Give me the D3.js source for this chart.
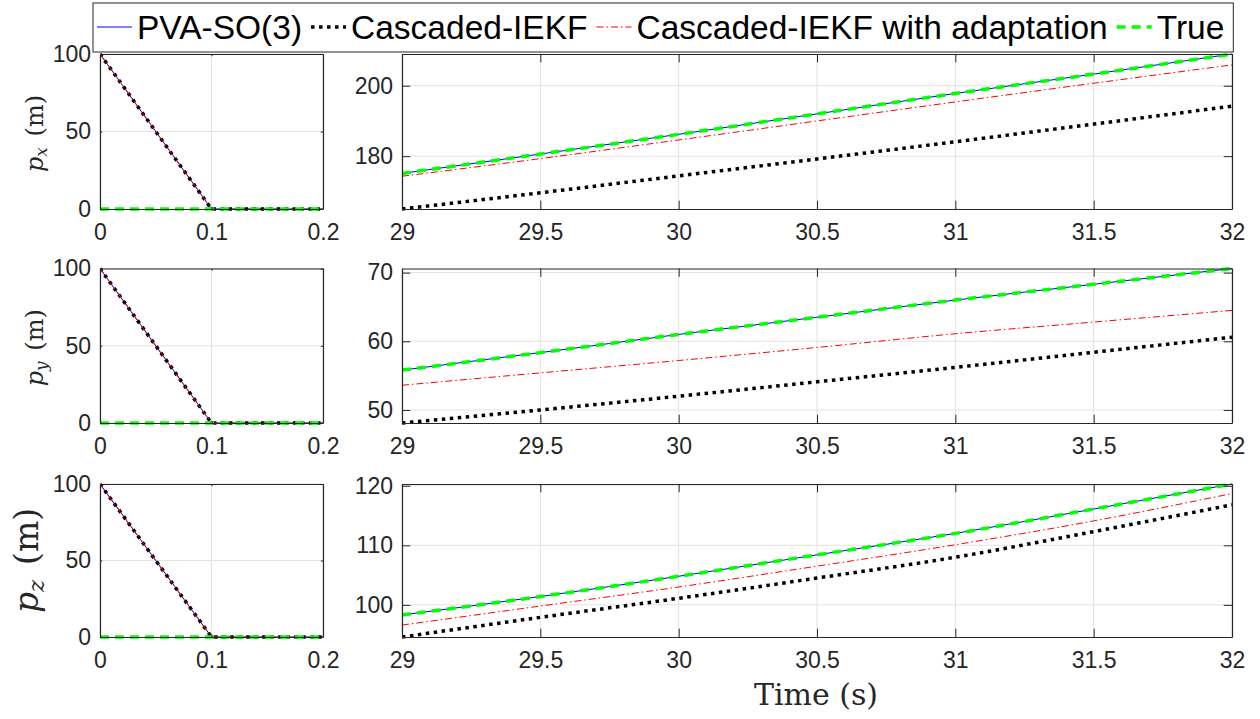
<!DOCTYPE html>
<html>
<head>
<meta charset="utf-8">
<script src="https://cdn.jsdelivr.net/npm/d3@7"></script>
<style>
  body { margin: 0; background: #fff; }
  svg { display: block; }
  .tick text { font-family: "Liberation Sans", Arial, sans-serif; fill: #262626; }
</style>
</head>
<body>
<div id="chart"></div>
<script>
// Series names for the legend
const seriesNames = ["PVA-SO(3)", "Cascaded-IEKF", "Cascaded-IEKF with adaptation", "True"];

// Start of the run (left column)
const tStart = [0, 0.1, 0.2];
const startEstimate = [100, 0, 0];
const startTrue = [0, 0, 0];

// Zoomed window (right column)
const tZoom = [29, 29.5, 30, 30.5, 31, 31.5, 32];

const pxPva   = [175.1, 180.6, 186.2, 192.0, 197.8, 203.3, 209.0];
const pxIekf  = [165.0, 169.6, 174.4, 179.2, 184.1, 189.1, 194.2];
const pxAdapt = [174.3, 179.3, 184.6, 190.0, 195.4, 200.7, 205.9];
const pxTrue  = [175.1, 180.6, 186.2, 192.0, 197.8, 203.3, 209.0];

const pyPva   = [55.8, 58.35, 61.0, 63.5, 66.0, 68.3, 70.6];
const pyIekf  = [48.1, 50.0, 52.0, 54.1, 56.2, 58.4, 60.6];
const pyAdapt = [53.6, 55.4, 57.2, 59.1, 61.1, 62.8, 64.5];
const pyTrue  = [55.8, 58.35, 61.0, 63.5, 66.0, 68.3, 70.6];

const pzPva   = [98.3, 101.4, 104.8, 108.4, 112.0, 116.1, 120.3];
const pzIekf  = [94.6, 97.9, 101.1, 104.5, 108.0, 112.3, 116.8];
const pzAdapt = [96.6, 99.8, 103.0, 106.5, 110.1, 114.1, 118.7];
const pzTrue  = [98.3, 101.4, 104.8, 108.4, 112.0, 116.1, 120.3];

// Axis limits and ticks
const startXTicks = [0, 0.1, 0.2];
const startYTicks = [0, 50, 100];
const zoomXTicks = [29, 29.5, 30, 30.5, 31, 31.5, 32];
const zoomYLimits = [[165, 209], [48.1, 70.6], [94.6, 120.3]];
const zoomYTicks = [[180, 200], [50, 60, 70], [100, 110, 120]];
const axisSubs = ["x", "y", "z"];

// Styles per series (order = draw order)
const styles = [
    { color: "#0000ff", width: 1,   dash: null },
    { color: "#000000", width: 3.5, dash: "3.5,4.5" },
    { color: "#ff0000", width: 1,   dash: "7,3,1.5,3" },
    { color: "#00ff00", width: 3.5, dash: "9,6" }
];

const svgWidth = 1260;
const svgHeight = 719;

const svg = d3.select("#chart")
    .append("svg")
    .attr("width", svgWidth)
    .attr("height", svgHeight);

// Panel frames: [top, bottom] for each row
const rows = [[54, 209], [268.5, 423], [484, 637]];
const leftX = [100, 323];
const rightX = [402, 1232];

const zoomData = [
    [pxPva, pxIekf, pxAdapt, pxTrue],
    [pyPva, pyIekf, pyAdapt, pyTrue],
    [pzPva, pzIekf, pzAdapt, pzTrue]
];

let clipId = 0;

function drawPanel(xRange, yRange, xDomain, yDomain, xTicks, yTicks, seriesList, xVals, curve) {
    const x = d3.scaleLinear().domain(xDomain).range(xRange);
    const y = d3.scaleLinear().domain(yDomain).range([yRange[1], yRange[0]]);
    const w = xRange[1] - xRange[0];
    const h = yRange[1] - yRange[0];
    const tickLen = Math.max(w, h) * 0.01;
    const g = svg.append("g");

    // grid
    g.append("g").selectAll("line.gx").data(xTicks).enter().append("line")
        .attr("x1", d => x(d)).attr("x2", d => x(d))
        .attr("y1", yRange[0]).attr("y2", yRange[1])
        .attr("stroke", "#e3e3e3").attr("stroke-width", 1);
    g.append("g").selectAll("line.gy").data(yTicks).enter().append("line")
        .attr("x1", xRange[0]).attr("x2", xRange[1])
        .attr("y1", d => y(d)).attr("y2", d => y(d))
        .attr("stroke", "#e3e3e3").attr("stroke-width", 1);

    // lines
    const id = "clip" + (clipId++);
    g.append("clipPath").attr("id", id).append("rect")
        .attr("x", xRange[0]).attr("y", yRange[0] - 2)
        .attr("width", w).attr("height", h + 4);
    const lines = g.append("g").attr("clip-path", `url(#${id})`);
    seriesList.forEach((vals, i) => {
        const line = d3.line()
            .x((d, j) => x(xVals[j]))
            .y(d => y(d))
            .curve(curve);
        lines.append("path")
            .datum(vals)
            .attr("d", line)
            .attr("fill", "none")
            .attr("stroke", styles[i].color)
            .attr("stroke-width", styles[i].width)
            .attr("stroke-dasharray", styles[i].dash);
    });

    // axes (ticks inward, box)
    const bottom = d3.axisBottom(x).tickValues(xTicks).tickSizeInner(-tickLen).tickSizeOuter(0)
        .tickPadding(15).tickFormat(d3.format(""));
    const top = d3.axisTop(x).tickValues(xTicks).tickSizeInner(-tickLen).tickSizeOuter(0).tickFormat("");
    const left = d3.axisLeft(y).tickValues(yTicks).tickSizeInner(-tickLen).tickSizeOuter(0)
        .tickPadding(9).tickFormat(d3.format(""));
    const right = d3.axisRight(y).tickValues(yTicks).tickSizeInner(-tickLen).tickSizeOuter(0).tickFormat("");

    const axes = [
        g.append("g").attr("transform", `translate(0,${yRange[1]})`).call(bottom),
        g.append("g").attr("transform", `translate(0,${yRange[0]})`).call(top),
        g.append("g").attr("transform", `translate(${xRange[0]},0)`).call(left),
        g.append("g").attr("transform", `translate(${xRange[1]},0)`).call(right)
    ];
    axes.forEach(a => {
        a.select(".domain").attr("stroke", "#262626").attr("stroke-width", 1.2);
        a.selectAll(".tick line").attr("stroke", "#262626").attr("stroke-width", 1);
        a.selectAll(".tick text").attr("font-size", "23px");
    });
    axes[0].selectAll(".tick text").attr("dy", "0.71em");
}

rows.forEach((r, i) => {
    drawPanel(leftX, r, [0, 0.2], [0, 100], startXTicks, startYTicks,
        [startEstimate, startEstimate, startEstimate, startTrue], tStart, d3.curveLinear);
    drawPanel(rightX, r, [29, 32], zoomYLimits[i], zoomXTicks, zoomYTicks[i],
        zoomData[i], tZoom, d3.curveMonotoneX);

    // y label
    const big = i === 2;
    const fs = big ? 33 : 24;
    const cx = big ? 28 : 36;
    const cy = (r[0] + r[1]) / 2 + (big ? 0 : 2);
    const lab = svg.append("text")
        .attr("transform", `translate(${cx},${cy}) rotate(-90)`)
        .attr("text-anchor", "middle")
        .attr("dy", "0.3em")
        .attr("font-family", "'DejaVu Serif', serif")
        .attr("font-size", fs + "px")
        .attr("fill", "#262626");
    lab.append("tspan").attr("font-style", "italic").text("p");
    lab.append("tspan").attr("font-style", "italic").attr("font-size", (fs * 0.7) + "px")
        .attr("baseline-shift", "-25%").text(axisSubs[i]);
    lab.append("tspan").attr("dx", fs * 0.45).text("(m)");
});

// x axis title
svg.append("text")
    .attr("x", 816)
    .attr("y", 705)
    .attr("text-anchor", "middle")
    .attr("font-family", "'DejaVu Serif', serif")
    .attr("font-size", "30px")
    .attr("fill", "#262626")
    .text("Time (s)");

// Legend
const legend = svg.append("g");
const legendBox = legend.append("rect")
    .attr("x", 93).attr("y", 3).attr("width", 1147).attr("height", 49)
    .attr("fill", "#fff").attr("stroke", "#262626").attr("stroke-width", 1);
let lx = 97;
seriesNames.forEach((name, i) => {
    legend.append("line")
        .attr("x1", lx).attr("x2", lx + 35)
        .attr("y1", 27).attr("y2", 27)
        .attr("stroke", styles[i].color)
        .attr("stroke-width", styles[i].width)
        .attr("stroke-dasharray", styles[i].dash);
    const t = legend.append("text")
        .attr("x", lx + 40).attr("y", 39)
        .attr("font-family", "'Liberation Sans', Arial, sans-serif")
        .attr("font-size", "33.5px")
        .attr("fill", "#000")
        .text(name);
    lx += 40 + t.node().getComputedTextLength() + 9;
});
legendBox.attr("width", lx - 93);
</script>
</body>
</html>
